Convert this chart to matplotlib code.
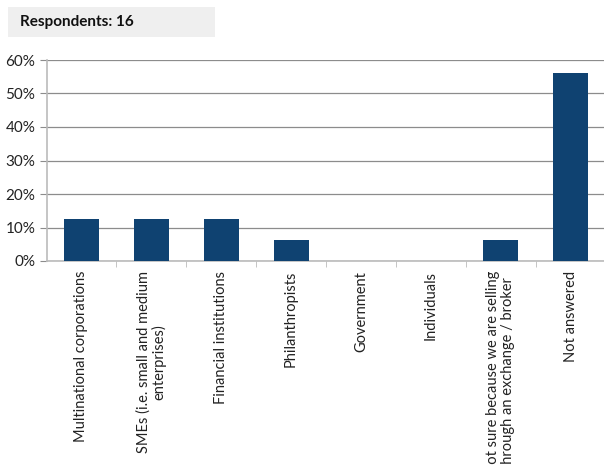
import matplotlib
matplotlib.use("Agg")
from matplotlib import pyplot as plt
from matplotlib.patches import Rectangle
from matplotlib.ticker import PercentFormatter

categories = [
    "Multinational corporations",
    "SMEs (i.e. small and medium\nenterprises)",
    "Financial institutions",
    "Philanthropists",
    "Government",
    "Individuals",
    "Not sure because we are selling\nthrough an exchange / broker",
    "Not answered",
]
shares = [12.5, 12.5, 12.5, 6.25, 0, 0, 6.25, 56.25]
respondents = 16

bar_color = "#0f4271"
grid_color = "#8c8c8c"

plt.rcParams["font.family"] = ["Lato", "DejaVu Sans"]

fig = plt.figure(figsize=(6.04, 4.65), dpi=100)
ax = fig.add_axes([46.5 / 604, 1 - 261 / 465, 559 / 604, 201 / 465])

x = range(len(categories))
ax.bar(x, shares, width=0.5, color=bar_color, zorder=3)

ax.set_xlim(-0.5, len(categories) - 0.5)
ax.set_ylim(0, 60)
ax.set_yticks(range(0, 61, 10))
ax.yaxis.set_major_formatter(PercentFormatter(decimals=0))
ax.yaxis.grid(True, color=grid_color, linewidth=0.9, zorder=0)

ax.set_xticks(x)
ax.set_xticklabels(categories, rotation=90, ha="center", va="top",
                   fontsize=10.5, color="#222222", linespacing=1.1)
ax.tick_params(axis="x", length=0, pad=7)
ax.set_xticks([i + 0.5 for i in range(len(categories) - 1)], minor=True)
ax.tick_params(axis="x", which="minor", length=4, color="#bbbbbb")
ax.tick_params(axis="y", length=5, color=grid_color, labelsize=11,
               labelcolor="#222222", pad=3)

for side in ["top", "right"]:
    ax.spines[side].set_visible(False)
ax.spines["left"].set_color("#bbbbbb")
ax.spines["left"].set_linewidth(1.2)
ax.spines["bottom"].set_color("#bbbbbb")
ax.spines["bottom"].set_linewidth(1.2)

# header box with respondent count
fig.patches.append(Rectangle((8 / 604, 1 - 37 / 465), 207 / 604, 30 / 465,
                             transform=fig.transFigure, facecolor="#efefef",
                             edgecolor="none"))
fig.text(20 / 604, 1 - 22 / 465, f"Respondents: {respondents}",
         fontsize=11, fontweight="bold", va="center", ha="left",
         color="#111111")

fig.savefig("out.png", dpi=100)
